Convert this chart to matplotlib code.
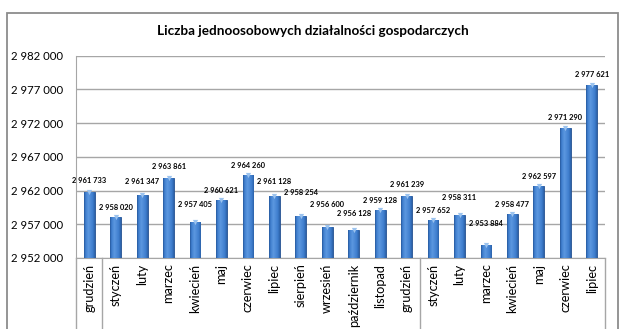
import matplotlib
matplotlib.use("Agg")
import matplotlib.pyplot as plt
import matplotlib.transforms as mtrans
from matplotlib.patches import Rectangle
import numpy as np

plt.rcParams['font.family'] = ['Lato', 'DejaVu Sans']

months = ['grudzień', 'styczeń', 'luty', 'marzec', 'kwiecień', 'maj', 'czerwiec',
          'lipiec', 'sierpień', 'wrzesień', 'październik', 'listopad', 'grudzień',
          'styczeń', 'luty', 'marzec', 'kwiecień', 'maj', 'czerwiec', 'lipiec']
values = [2961733, 2958020, 2961347, 2963861, 2957405, 2960621, 2964260,
          2961128, 2958254, 2956600, 2956128, 2959128, 2961239,
          2957652, 2958311, 2953884, 2958477, 2962597, 2971290, 2977621]
# group boundaries (between categories) on the category axis
group_edges = [-0.5, 0.5, 12.5, 19.5]
# how high each value label sits above its bar (px), as placed in the original
label_lift = [11.5, 9.5, 13, 11, 17, 9, 9.3, 15, 23, 22, 17, 9.7, 11.4,
              9.8, 18, 22, 9.8, 10, 10.3, 11]

ymin, ymax, ystep = 2952000, 2982000, 5000

def fmt(v):
    return f"{v:,}".replace(",", " ")

fig = plt.figure(figsize=(6.24, 3.29), dpi=100)
ax = fig.add_axes([76/624, 1-258/329, 529/624, 202.5/329])

# outer chart frame (cut off at the bottom like the original)
fig.patches.append(Rectangle((7/624, -0.05), 611/624, 1.05-13/329, transform=fig.transFigure,
                             fill=False, edgecolor='#8c8c8c', linewidth=1.3, zorder=0))

x = np.arange(len(values))
bars = ax.bar(x, np.array(values) - ymin, bottom=ymin, width=0.41,
              color='#3a75c4', edgecolor='#24508f', linewidth=0.6, zorder=3)

# horizontal gradient on every bar
grad = np.linspace(0, 1, 64)
shade = np.interp(grad, [0, 0.15, 0.4, 0.75, 1], [0.15, 0.55, 1.0, 0.6, 0.25])
cmap = matplotlib.colors.LinearSegmentedColormap.from_list('b', ['#1b4784', '#3d7ccc', '#5c98e0'])
for b in bars:
    x0, w, h = b.get_x(), b.get_width(), b.get_height()
    im = ax.imshow(shade[None, :], cmap=cmap, vmin=0, vmax=1, aspect='auto',
                   extent=(x0, x0 + w, ymin, ymin + h), zorder=4, interpolation='bilinear')
    im.set_clip_path(b)
# light cap on top
ax.scatter(x, values, marker='v', s=14, color='#9cc3ee', zorder=5, linewidths=0)

for xi, v, lift in zip(x, values, label_lift):
    ax.annotate(fmt(v), (xi, v), xytext=(0, lift * 0.72), textcoords='offset points',
                ha='center', va='center', fontsize=5.4, fontweight='bold', zorder=6)

ax.set_xlim(-0.5, len(values) - 0.5)
ax.set_ylim(ymin, ymax)
ticks = np.arange(ymin, ymax + 1, ystep)
ax.set_yticks(ticks)
ax.set_yticklabels([fmt(t) for t in ticks], fontsize=8.2)
ax.tick_params(axis='y', length=0, pad=9.4)
ax.yaxis.grid(True, color='#a6a6a6', linewidth=1.0, zorder=0)
ax.set_axisbelow(True)

ax.set_xticks(x)
ax.set_xticklabels(months, rotation=90, fontsize=9.2, va='top')
ax.tick_params(axis='x', length=0, pad=4)

for s in ['top', 'right']:
    ax.spines[s].set_visible(False)
ax.spines['left'].set_color('#a6a6a6')
ax.spines['bottom'].set_color('#a6a6a6')

trans = mtrans.blended_transform_factory(ax.transData, ax.transAxes)
for e in group_edges:
    ax.plot([e, e], [0, -0.45], transform=trans, color='#a6a6a6', linewidth=1.0, clip_on=False)

fig.text(313/624, 1-31/329, 'Liczba jednoosobowych działalności gospodarczych',
         ha='center', va='center', fontsize=9.7, fontweight='bold')

fig.savefig('out.png', dpi=100)
